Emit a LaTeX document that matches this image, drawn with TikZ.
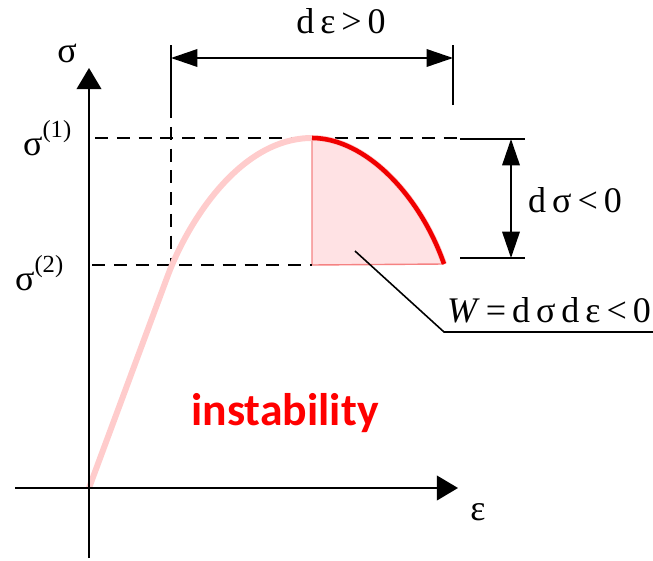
\documentclass[tikz,border=0pt]{standalone}
\usepackage{fontspec}
\setmainfont{Liberation Serif}
\newfontfamily\calibri{Carlito}
\usepackage{tikz}
\usetikzlibrary{positioning,arrows.meta}
\definecolor{curvepink}{RGB}{255,204,204}
\definecolor{peakred}{RGB}{240,0,0}
\definecolor{areapink}{RGB}{255,226,228}
\definecolor{arearim}{RGB}{245,130,130}
\newcommand{\supidx}[1]{\raisebox{10pt}{\fontsize{14}{15}\selectfont(#1)}}

\begin{document}
\begin{tikzpicture}[x=0.02cm, y=-0.02cm,
  every node/.style={font=\fontsize{20.5}{23}\selectfont, inner sep=1pt},
  axis/.style={line width=1.1pt, -{Triangle[length=12pt, width=14pt]}},
  dimline/.style={line width=0.9pt, {Triangle[length=15pt, width=10pt]}-{Triangle[length=15pt, width=10pt]}},
  tickline/.style={line width=0.9pt},
  guide/.style={line width=0.9pt, dash pattern=on 7.4pt off 5pt}
]
\useasboundingbox (0,0) rectangle (653,561);

% key points of the curve
\coordinate (O) at (89,488);
\coordinate (K) at (168,275);
\coordinate (P) at (312,138);
\coordinate (E) at (444,264);
\coordinate (B) at (312,265);

% shaded work area
\fill[areapink] (P) .. controls (365,138) and (420,195) .. (E) -- (B) -- cycle;
\draw[arearim, line width=0.8pt] (E) -- (B) -- (P);

% dashed guides
\coordinate (g1l) at (95,138);  \coordinate (g1r) at (458,138);
\coordinate (g2l) at (92,265);
\coordinate (gvt) at (171,105); \coordinate (gvb) at (171,265);
\draw[guide] (g1l) -- (g1r);
\draw[guide] (g2l) -- (B);
\draw[guide] (gvt) -- (gvb);

% stress-strain curve
\draw[curvepink, line width=3.4pt] (O) -- (K) .. controls (188,222) and (240,138) .. (P)
  .. controls (365,138) and (420,195) .. (E);
\draw[peakred, line width=2.6pt] (P) .. controls (365,138) and (420,195) .. (E);

% axes
\coordinate (ybot) at (89,558); \coordinate (ytop) at (89,68);
\coordinate (xleft) at (15,488); \coordinate (xtip) at (458,488);
\draw[axis] (ybot) -- (ytop);
\draw[axis] (xleft) -- (xtip);
\node (sig) at (67,53) {σ};
\node (eps) at (478,512) {ε};
\node[anchor=base west] (sig1) at (21,155) {σ\supidx{1}};
\node[anchor=base west] (sig2) at (13,290) {σ\supidx{2}};

% strain increment
\coordinate (t1b) at (171,105); \coordinate (t1t) at (171,45);
\coordinate (t2b) at (453,105); \coordinate (t2t) at (453,45);
\coordinate (a1) at (171,58);   \coordinate (a2) at (453,58);
\draw[tickline] (t1b) -- (t1t);
\draw[tickline] (t2b) -- (t2t);
\draw[dimline] (a1) -- (a2);
\node (deps) at (341,21) {d\,ε\,>\,0};

% stress increment
\coordinate (s1l) at (460,139); \coordinate (s1r) at (525,139);
\coordinate (s2l) at (460,258); \coordinate (s2r) at (525,258);
\coordinate (b1) at (511,139);  \coordinate (b2) at (511,258);
\draw[tickline] (s1l) -- (s1r);
\draw[tickline] (s2l) -- (s2r);
\draw[dimline] (b1) -- (b2);
\node (dsig) at (575,200) {d\,σ\,<\,0};

% work label with leader
\coordinate (w0) at (355,251);
\coordinate (w1) at (444,332);
\coordinate (w2) at (653,332);
\draw[line width=0.9pt] (w0) -- (w1) -- (w2);
\node[anchor=base] (work) at (549,322) {\textit{W}\,=\,d\,σ\,d\,ε\,<\,0};

\node[text=red, font=\calibri\bfseries\fontsize{26}{30}\selectfont] (instab) at (285,413) {instability};
\end{tikzpicture}
\end{document}
